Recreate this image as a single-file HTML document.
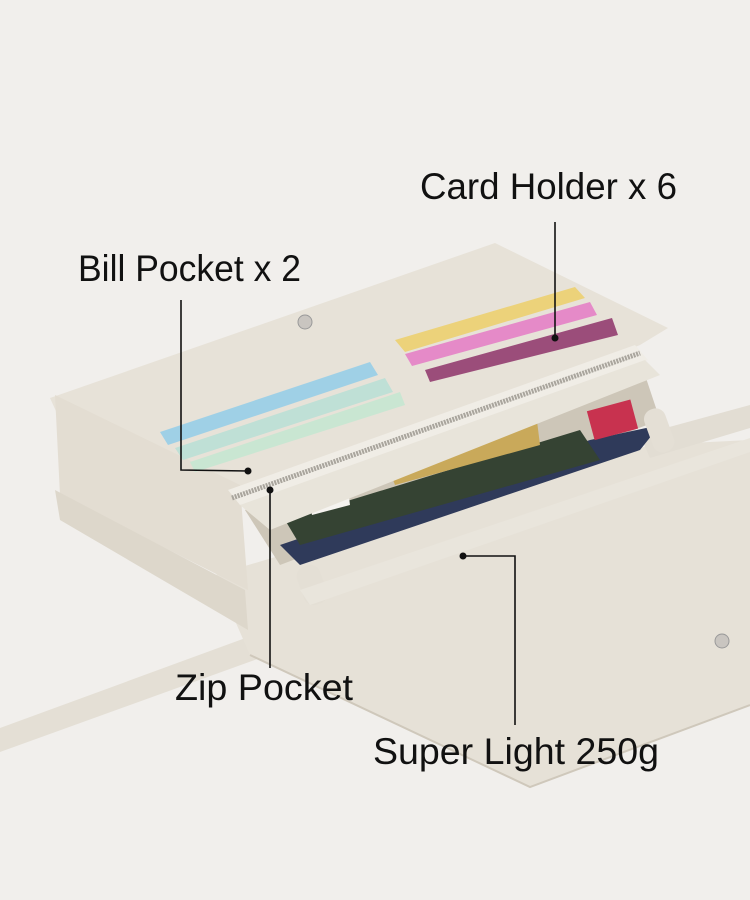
<!DOCTYPE html>
<html><head><meta charset="utf-8"><style>
html,body{margin:0;padding:0;background:#f1efec}
svg{display:block}
text{font-family:"Liberation Sans",sans-serif;font-size:37px;fill:#111}
</style></head><body>
<svg width="750" height="900" viewBox="0 0 750 900" xmlns="http://www.w3.org/2000/svg">
<rect width="750" height="900" fill="#f1efec"/>
<polygon points="0,728 300,618 310,640 0,752" fill="#e4dfd5"/>
<polygon points="215,575 650,445 750,440 750,705 530,787 250,655" fill="#e6e1d7"/>
<polyline points="250,655 530,787 750,705" fill="none" stroke="#cfc8bb" stroke-width="2"/>
<polygon points="640,435 750,405 750,428 650,458" fill="#e2ddd3"/>
<polygon points="50,398 495,243 668,328 640,345 250,500 60,420" fill="#e7e2d8"/>
<polygon points="55,395 240,485 248,590 60,495" fill="#e3ddd2"/>
<polygon points="55,490 245,590 248,630 60,520" fill="#ddd7cb"/>
<polygon points="245,510 640,360 660,420 280,565" fill="#cdc6b8"/>
<polygon points="280,545 590,440 660,425 640,450 300,565" fill="#2f3a5a"/>
<polygon points="285,520 580,430 600,460 300,545" fill="#354333"/>
<polygon points="380,445 535,405 540,445 395,485" fill="#c9a95a"/>
<rect x="590" y="405" width="45" height="30" fill="#c8324f" transform="rotate(-15 612 420)"/>
<polygon points="305,475 345,465 350,505 312,515" fill="#f5f3ef"/>
<polygon points="160,432 370,362 378,375 168,445" fill="#9fd0e6"/>
<polygon points="175,448 385,378 393,392 183,460" fill="#bfe0d6"/>
<polygon points="190,462 400,392 405,405 195,472" fill="#c9e6d2"/>
<polygon points="395,340 575,287 585,298 405,352" fill="#ecd27a"/>
<polygon points="405,354 590,302 597,315 412,366" fill="#e58ac8"/>
<polygon points="425,370 612,318 618,335 430,382" fill="#9b4d7a"/>
<polygon points="228,490 635,345 648,360 240,505" fill="#f0ede6"/>
<line x1="232" y1="498" x2="640" y2="353" stroke="#a9a59d" stroke-width="5" stroke-dasharray="2 1"/>
<polygon points="240,505 645,360 660,375 270,530" fill="#e8e4da"/>
<rect x="300" y="565" width="24" height="40" rx="10" fill="#e4dfd5" transform="rotate(-20 312 585)"/>
<rect x="648" y="408" width="22" height="45" rx="10" fill="#e4dfd5" transform="rotate(-20 659 430)"/>
<polygon points="300,590 750,438 750,452 310,605" fill="#e9e5dc"/>
<circle cx="305" cy="322" r="7" fill="#c9c5c0" stroke="#999" stroke-width="1"/>
<circle cx="722" cy="641" r="7" fill="#c9c5c0" stroke="#999" stroke-width="1"/>
<g stroke="#111" stroke-width="1.6" fill="none">
<line x1="555" y1="222" x2="555" y2="338"/>
<polyline points="181,300 181,470 248,471"/>
<line x1="270" y1="490" x2="270" y2="668"/>
<polyline points="463,556 515,556 515,725"/>
</g>
<g fill="#111">
<circle cx="555" cy="338" r="3.5"/><circle cx="248" cy="471" r="3.5"/>
<circle cx="270" cy="490" r="3.5"/><circle cx="463" cy="556" r="3.5"/>
</g>
<text x="420" y="199" textLength="257" lengthAdjust="spacingAndGlyphs">Card Holder x 6</text>
<text x="78" y="281" textLength="223" lengthAdjust="spacingAndGlyphs">Bill Pocket x 2</text>
<text x="175" y="700" textLength="178" lengthAdjust="spacingAndGlyphs">Zip Pocket</text>
<text x="373" y="764" textLength="286" lengthAdjust="spacingAndGlyphs">Super Light 250g</text>
</svg>
</body></html>
